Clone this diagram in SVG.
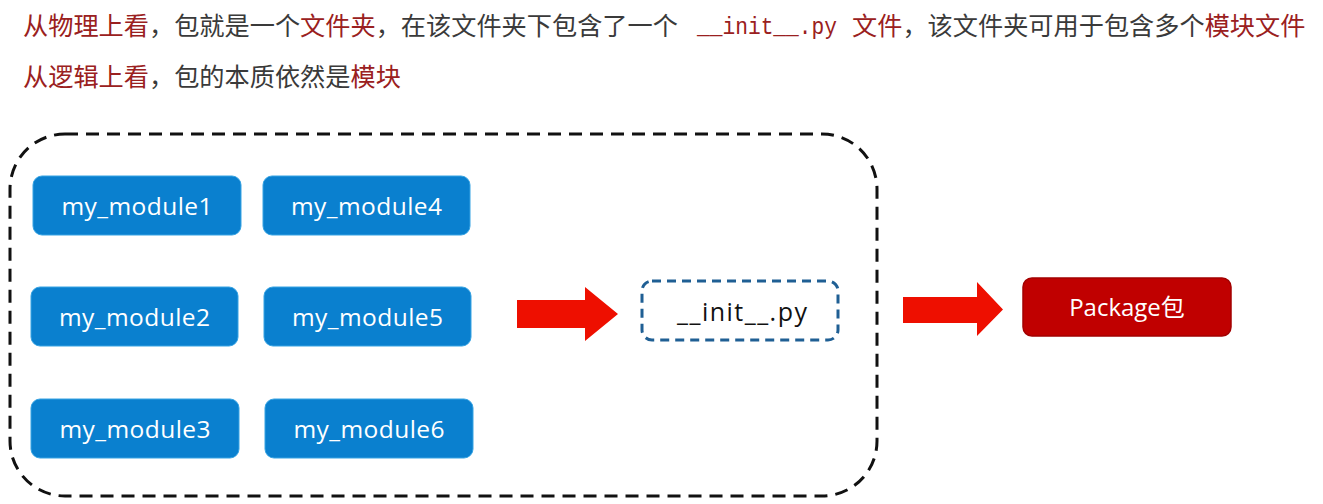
<svg xmlns="http://www.w3.org/2000/svg" width="1323" height="504" viewBox="0 0 1323 504">
<style>
.hd{font-family:"Noto Sans CJK SC","Noto Sans",sans-serif;font-size:25.2px;fill:#3a3a3a}
.rd{fill:#9a2020}
.mono{font-family:"Liberation Mono","DejaVu Sans Mono",monospace;font-size:24px;fill:#9a2020}
.mod rect{fill:#0a80cf;stroke:#36a3e3;stroke-width:1}
.mod text{font-family:"Open Sans","Liberation Sans",sans-serif;font-size:24.5px;fill:#ffffff;text-anchor:middle}
.arrow{fill:#ee0f00}
</style>
<rect width="1323" height="504" fill="#ffffff"/>
<g id="header">
<text class="hd" x="23" y="35"><tspan class="rd">从物理上看</tspan>，包就是一个<tspan class="rd">文件夹</tspan>，在该文件夹下包含了一个</text>
<text class="mono" x="697" y="34" textLength="140" lengthAdjust="spacingAndGlyphs">__init__.py</text>
<text class="hd" x="852" y="35"><tspan class="rd">文件</tspan>，该文件夹可用于包含多个<tspan class="rd">模块文件</tspan></text>
<text class="hd" x="23" y="86"><tspan class="rd">从逻辑上看</tspan>，包的本质依然是<tspan class="rd">模块</tspan></text>
</g>
<g id="package-folder">
<rect x="10" y="134" width="867" height="362" rx="55" ry="55" fill="none" stroke="#111" stroke-width="3" stroke-dasharray="13 8"/>
</g>
<g id="my_module1" class="mod"><rect x="33" y="176" width="208" height="59" rx="9"/><text x="137" y="215" textLength="151">my_module1</text></g>
<g id="my_module4" class="mod"><rect x="263" y="176" width="207" height="59" rx="9"/><text x="366.5" y="215" textLength="151">my_module4</text></g>
<g id="my_module2" class="mod"><rect x="31" y="287" width="207" height="59" rx="9"/><text x="134.5" y="326" textLength="151">my_module2</text></g>
<g id="my_module5" class="mod"><rect x="264" y="287" width="207" height="59" rx="9"/><text x="367.5" y="326" textLength="151">my_module5</text></g>
<g id="my_module3" class="mod"><rect x="31" y="399" width="208" height="59" rx="9"/><text x="135" y="438" textLength="151">my_module3</text></g>
<g id="my_module6" class="mod"><rect x="265" y="399" width="208" height="59" rx="9"/><text x="369" y="438" textLength="151">my_module6</text></g>
<g id="init">
<rect x="642" y="281" width="196" height="59" rx="10" fill="#ffffff" stroke="#1f5f94" stroke-width="3" stroke-dasharray="9 6"/>
<text x="742" y="321" font-family="'Open Sans','Liberation Sans',sans-serif" font-size="25" fill="#111" text-anchor="middle" textLength="130">__init__.py</text>
</g>
<g id="package">
<rect x="1023" y="278" width="208" height="58" rx="9" fill="#c00000" stroke="#a30000" stroke-width="1.5"/>
<text x="1127" y="316" font-family="'Open Sans','Noto Sans CJK SC',sans-serif" font-size="24" fill="#ffffff" text-anchor="middle">Package包</text>
</g>
<g id="connectors">
<polygon class="arrow" points="517,300 585,300 585,287 618,314 585,341 585,328 517,328"/>
<polygon class="arrow" points="903,297 977,297 977,282 1003,309.5 977,336 977,323 903,323"/>
</g>
</svg>
